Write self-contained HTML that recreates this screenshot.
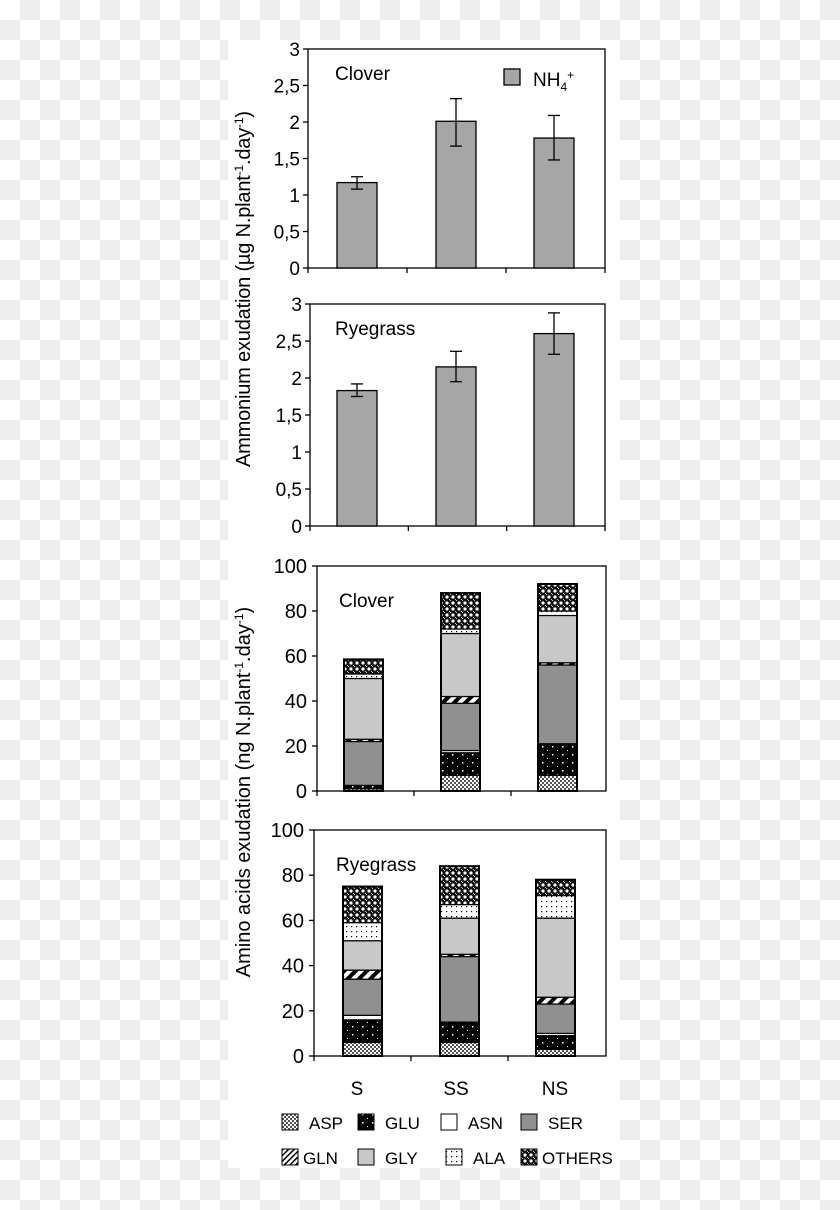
<!DOCTYPE html>
<html><head><meta charset="utf-8"><style>
html,body{margin:0;padding:0;}
body{width:840px;height:1210px;overflow:hidden;background:#fff}
svg{position:absolute;left:0;top:0}
text{font-family:"Liberation Sans",Arial,sans-serif;fill:#000}
</style></head><body>
<svg id="s" width="840" height="1210" xmlns="http://www.w3.org/2000/svg">
<defs>
<pattern id="chk" width="40" height="40" patternUnits="userSpaceOnUse">
<rect width="40" height="40" fill="#fff"/><rect x="20" width="20" height="20" fill="#eeeeee"/><rect y="20" width="20" height="20" fill="#eeeeee"/>
</pattern>
<pattern id="asp" width="4" height="4" patternUnits="userSpaceOnUse">
<rect width="4" height="4" fill="#fff"/><rect width="2" height="2" fill="#555"/><rect x="2" y="2" width="2" height="2" fill="#555"/>
</pattern>
<pattern id="glu" width="10" height="8" patternUnits="userSpaceOnUse">
<rect width="10" height="8" fill="#000"/><rect x="2" y="2" width="1.5" height="1.5" fill="#fff"/><rect x="7" y="6" width="1" height="1" fill="#fff"/>
</pattern>
<pattern id="gln" width="8" height="8" patternUnits="userSpaceOnUse" patternTransform="rotate(45)">
<rect width="8" height="8" fill="#fff"/><rect width="4" height="8" fill="#000"/>
</pattern>
<pattern id="gln2" width="4" height="4" patternUnits="userSpaceOnUse" patternTransform="rotate(45)">
<rect width="4" height="4" fill="#fff"/><rect width="1.5" height="4" fill="#000"/>
</pattern>
<pattern id="ala" width="5" height="5" patternUnits="userSpaceOnUse">
<rect width="5" height="5" fill="#fff"/><rect x="1" y="1" width="1.2" height="1.2" fill="#000"/>
</pattern>
<pattern id="oth" width="6" height="6" patternUnits="userSpaceOnUse">
<rect width="6" height="6" fill="#111"/><circle cx="3" cy="3" r="1.6" fill="#fff"/><circle cx="0" cy="0" r="1" fill="#fff"/><circle cx="6" cy="6" r="1" fill="#fff"/>
</pattern>
</defs>
<rect width="840" height="1210" fill="url(#chk)"/>
<rect x="228" y="40" width="392" height="1128" fill="#fff"/>
<g id="g"></g>
</svg>
<script>
var g=document.getElementById('g'),h='';
function T(x,y,t,sz,anch,extra){h+='<text x="'+x+'" y="'+y+'" font-size="'+(sz||17)+'" text-anchor="'+(anch||'end')+'" '+(extra||'')+'>'+t+'</text>';}
function L(x1,y1,x2,y2,w){h+='<line x1="'+x1+'" y1="'+y1+'" x2="'+x2+'" y2="'+y2+'" stroke="#000" stroke-width="'+(w||1.3)+'"/>';}
function R(x,y,w,hh,f,sw){h+='<rect x="'+x+'" y="'+y+'" width="'+w+'" height="'+hh+'" fill="'+f+'" stroke="#000" stroke-width="'+(sw==null?1.3:sw)+'"/>';}
function nh(ax,top,bot,right,vals,errs,label){
 var s=(bot-top)/3;
 h+='<rect x="'+ax+'" y="'+top+'" width="'+(right-ax)+'" height="'+(bot-top)+'" fill="none" stroke="#000" stroke-width="1.3"/>';
 var labs=['0','0,5','1','1,5','2','2,5','3'];
 for(var i=0;i<7;i++){var y=bot-i*0.5*s;L(ax-5,y,ax,y);T(ax-8,y+7,labs[i],19);}
 L(ax,bot,ax,bot+5);for(var k=1;k<=3;k++){var xx=ax+k*(right-ax)/3;L(xx,bot,xx,bot+5);}
 var cx=[357,456,554];
 for(var j=0;j<3;j++){var yt=bot-vals[j]*s;R(cx[j]-20,yt,40,bot-yt,'#a6a6a6');
  var y1=bot-errs[j][0]*s,y2=bot-errs[j][1]*s;L(cx[j],y1,cx[j],y2);L(cx[j]-6,y1,cx[j]+6,y1);L(cx[j]-6,y2,cx[j]+6,y2);}
 T(335,top+31,label,19,'start');
}
nh(308,49,268,605,[1.17,2.01,1.78],[[1.08,1.25],[1.67,2.32],[1.48,2.09]],'Clover');
R(504,69,16,16,'#a6a6a6');T(533,86,'NH<tspan font-size="12" dy="5">4</tspan><tspan font-size="12" dy="-12">+</tspan>',19,'start');
nh(310,304,526,605,[1.83,2.15,2.6],[[1.75,1.92],[1.95,2.36],[2.32,2.88]],'Ryegrass');
var fills=['url(#asp)','url(#glu)','#fff','#909090','url(#gln)','#c8c8c8','url(#ala)','url(#oth)'];
function aa(ax,top,bot,right,stacks,label,bx){
 var s=(bot-top)/100;
 h+='<rect x="'+ax+'" y="'+top+'" width="'+(right-ax)+'" height="'+(bot-top)+'" fill="none" stroke="#000" stroke-width="1.3"/>';
 for(var i=0;i<=5;i++){var y=bot-i*20*s;L(ax-5,y,ax,y);T(ax-10,y+7,String(i*20),20);}
 L(ax,bot,ax,bot+5);for(var k=1;k<=2;k++){var xx=ax+k*97;L(xx,bot,xx,bot+5);}
 for(var j=0;j<3;j++){var st=stacks[j],prev=0;
  for(var q=0;q<8;q++){var v=st[q];if(v>prev){R(bx[j],bot-v*s,39,(v-prev)*s,fills[q],1.2);}prev=Math.max(prev,v);}
  R(bx[j],bot-st[7]*s,39,st[7]*s,'none',2);}
 T(ax+22,top+41,label,19,'start');
}
aa(317,566,791,606,[[1,2.5,2.5,22,23,50,52,58.5],[7,17,18,39,42,70,72,88],[7,21,21,56,57,78,80,92]],'Clover',[344,441,538]);
aa(314,830,1056,606,[[6,16,18,34,38,51,59,75],[6,15,15,44,45,61,67,84],[3,9,10,23,26,61,71,78]],'Ryegrass',[343,440,536]);
T(357,1095,'S',19,'middle');T(456,1095,'SS',19,'middle');T(555,1095,'NS',19,'middle');
fills[4]='url(#gln2)';
var lg=[['ASP',282,1114],['GLU',358,1114],['ASN',441,1114],['SER',521,1114],['GLN',282,1149],['GLY',358,1149],['ALA',446,1149],['OTHERS',521,1149]];
for(var i=0;i<8;i++){R(lg[i][1],lg[i][2],16,16,fills[i],1);T(lg[i][1]+(i==4||i==7?21:27),lg[i][2]+15,lg[i][0],17,'start');}
T(0,0,'Ammonium exudation (µg N.plant<tspan font-size="12" dy="-7">-1</tspan><tspan dy="7">.day</tspan><tspan font-size="12" dy="-7">-1</tspan><tspan dy="7">)</tspan>',20,'middle','transform="translate(250,289) rotate(-90)" textLength="356"');
T(0,0,'Amino acids exudation (ng N.plant<tspan font-size="12" dy="-7">-1</tspan><tspan dy="7">.day</tspan><tspan font-size="12" dy="-7">-1</tspan><tspan dy="7">)</tspan>',20,'middle','transform="translate(250,792) rotate(-90)"');
g.innerHTML=h;
</script>
</body></html>
